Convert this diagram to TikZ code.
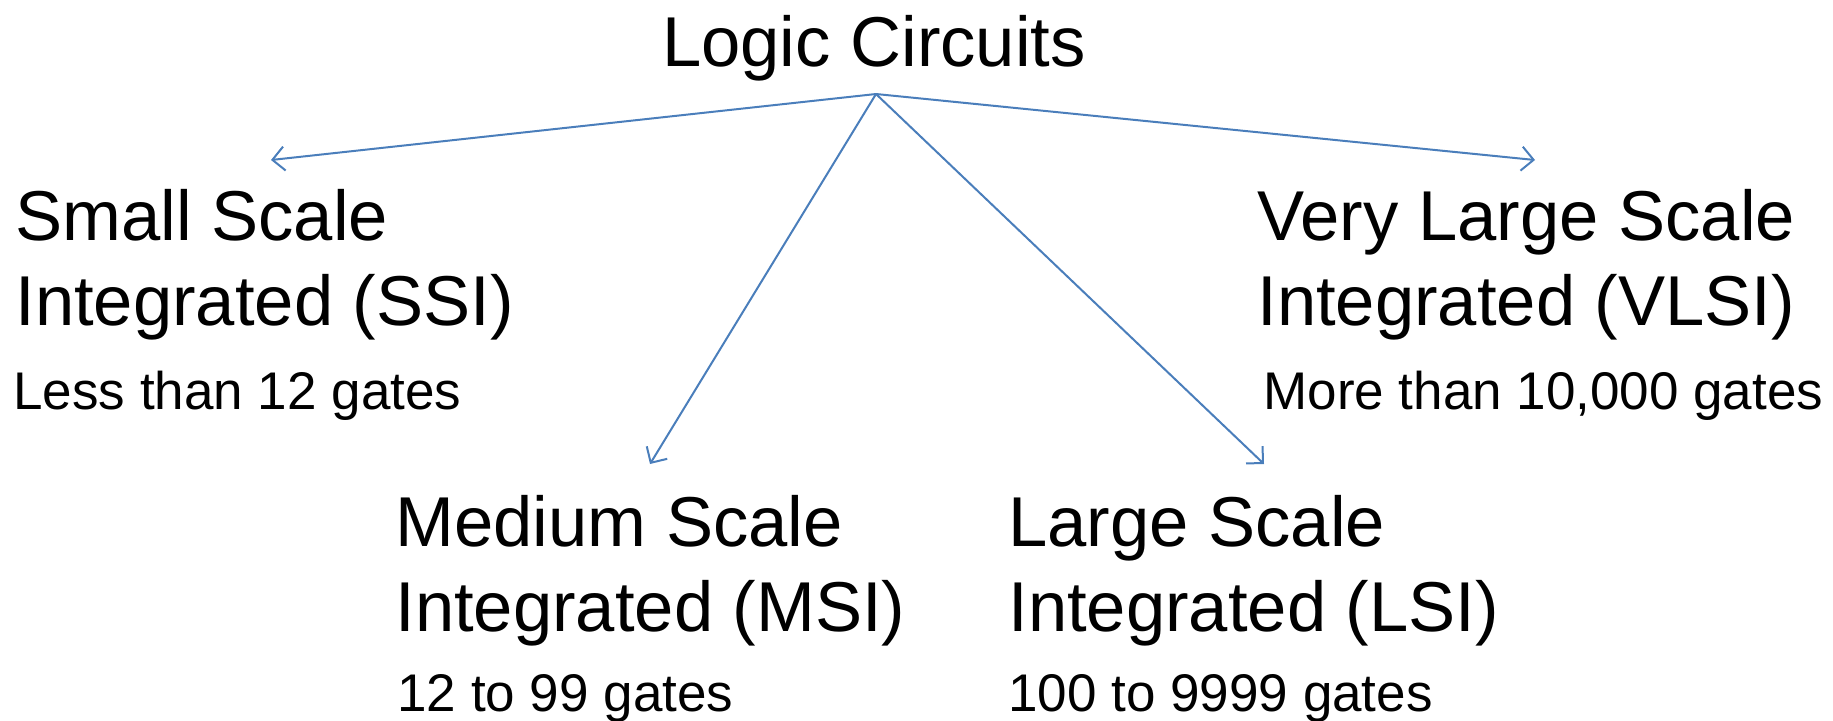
\documentclass[tikz,border=0pt]{standalone}
\usepackage{fontspec}
\setmainfont{Liberation Sans}
\usetikzlibrary{arrows.meta}
\definecolor{lineblue}{HTML}{4A7EBB}
\tikzset{
  big/.style={anchor=base west, inner sep=0pt, font=\fontsize{35.3}{42}\selectfont},
  small/.style={anchor=base west, inner sep=0pt, font=\fontsize{26.5}{31}\selectfont},
  link/.style={draw=lineblue, line width=1pt, -{Straight Barb[length=6pt, width=12pt, line width=1pt]}}
}
\begin{document}
\begin{tikzpicture}[x=0.5pt, y=-0.5pt]
\useasboundingbox (0,0) rectangle (1833,720);
\node[anchor=base, inner sep=0pt, font=\fontsize{35.3}{42}\selectfont] (title) at (874,66) {Logic Circuits};
\coordinate (apex) at (876,94);
\coordinate (tssi) at (271,160);
\coordinate (tvlsi) at (1535,160);
\coordinate (tmsi) at (650,464);
\coordinate (tlsi) at (1264,464);

\node[big] (ssi1) at (15,240) {Small Scale};
\node[big] (ssi2) at (15,325) {Integrated (SSI)};
\node[small] (ssi3) at (13,409) {Less than 12 gates};

\node[big] (vlsi1) at (1257,240) {Very Large Scale};
\node[big] (vlsi2) at (1257,325) {Integrated (VLSI)};
\node[small] (vlsi3) at (1263,409) {More than 10,000 gates};

\node[big] (msi1) at (395,546) {Medium Scale};
\node[big] (msi2) at (395,631) {Integrated (MSI)};
\node[small] (msi3) at (397,711) {12 to 99 gates};

\node[big] (lsi1) at (1008,546) {Large Scale};
\node[big] (lsi2) at (1008,631) {Integrated (LSI)};
\node[small] (lsi3) at (1008,711) {100 to 9999 gates};

\draw[link] (apex) -- (tssi);
\draw[link] (apex) -- (tvlsi);
\draw[link] (apex) -- (tmsi);
\draw[link] (apex) -- (tlsi);
\end{tikzpicture}
\end{document}
